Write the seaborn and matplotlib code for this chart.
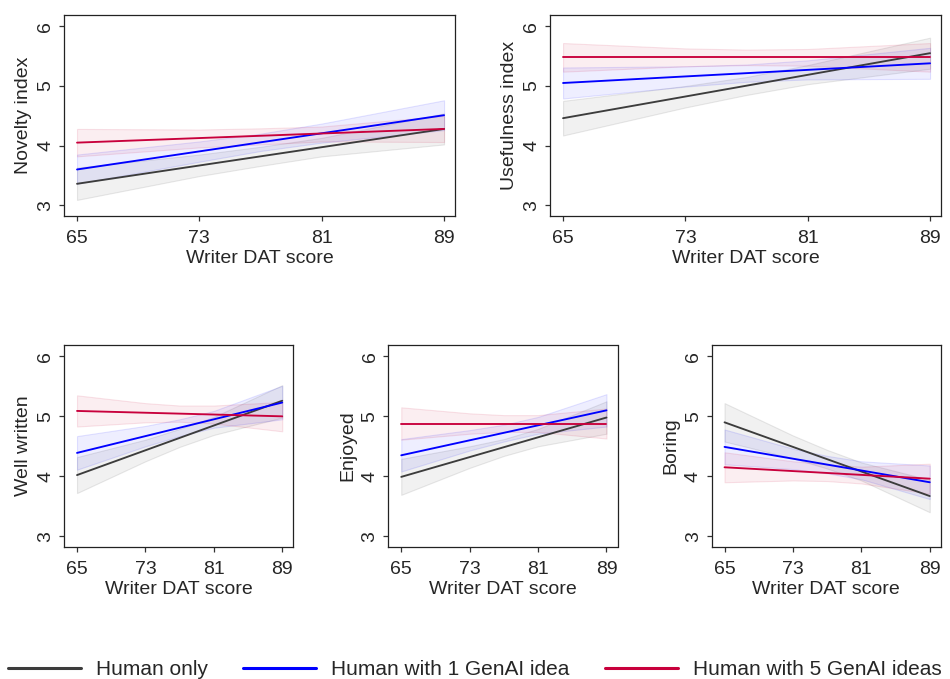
import pandas as pd
import matplotlib
matplotlib.use("Agg")
import matplotlib.pyplot as plt
import seaborn as sns
from matplotlib.colors import to_rgba
from matplotlib.lines import Line2D

# --- DATA ---
GROUPS = ["Human only", "Human with 1 GenAI idea", "Human with 5 GenAI ideas"]

X_ENDS = [65, 89]                  # fitted lines are straight
X_BAND = [65, 73, 77, 81, 89]      # CI band read at these scores
X_TICKS = [65, 73, 81, 89]
Y_TICKS = [3, 4, 5, 6]

# one row per group: human only, 1 idea, 5 ideas
NOVELTY_MEAN = [[3.36, 4.28], [3.60, 4.51], [4.05, 4.28]]
NOVELTY_LO = [[3.09, 3.49, 3.66, 3.82, 4.02], [3.36, 3.73, 3.91, 4.05, 4.26], [3.82, 3.97, 4.02, 4.07, 4.06]]
NOVELTY_HI = [[3.63, 3.85, 3.98, 4.13, 4.54], [3.85, 4.07, 4.20, 4.37, 4.76], [4.28, 4.27, 4.29, 4.32, 4.50]]

USEFUL_MEAN = [[4.46, 5.55], [5.05, 5.38], [5.48, 5.48]]
USEFUL_LO = [[4.17, 4.64, 4.85, 5.03, 5.29], [4.79, 4.99, 5.07, 5.11, 5.12], [5.24, 5.33, 5.35, 5.34, 5.24]]
USEFUL_HI = [[4.75, 5.00, 5.15, 5.35, 5.81], [5.31, 5.33, 5.36, 5.43, 5.64], [5.72, 5.63, 5.61, 5.62, 5.72]]

WELL_MEAN = [[4.02, 5.26], [4.39, 5.23], [5.09, 5.00]]
WELL_LO = [[3.72, 4.25, 4.49, 4.69, 4.98], [4.11, 4.50, 4.67, 4.81, 4.95], [4.83, 4.90, 4.91, 4.88, 4.75]]
WELL_HI = [[4.32, 4.61, 4.79, 4.99, 5.52], [4.67, 4.84, 4.95, 5.09, 5.51], [5.35, 5.22, 5.18, 5.18, 5.24]]

ENJOY_MEAN = [[3.99, 4.98], [4.35, 5.10], [4.88, 4.88]]
ENJOY_LO = [[3.69, 4.14, 4.34, 4.50, 4.71], [4.08, 4.43, 4.58, 4.71, 4.83], [4.61, 4.71, 4.74, 4.74, 4.63]]
ENJOY_HI = [[4.29, 4.50, 4.62, 4.79, 5.25], [4.62, 4.77, 4.86, 4.99, 5.37], [5.15, 5.05, 5.02, 5.02, 5.13]]

BORING_MEAN = [[4.90, 3.67], [4.49, 3.90], [4.15, 3.96]]
BORING_LO = [[4.58, 4.30, 4.13, 3.93, 3.40], [4.20, 4.12, 4.05, 3.95, 3.62], [3.90, 3.93, 3.92, 3.88, 3.71]]
BORING_HI = [[5.22, 4.68, 4.44, 4.23, 3.94], [4.78, 4.46, 4.34, 4.25, 4.18], [4.40, 4.25, 4.20, 4.16, 4.21]]

# --- STYLE ---
LINE_COLORS = ["#3c3c3c", "#0000ff", "#c8003c"]
BAND_COLORS = ["#808080", "#0000ff", "#cc0033"]
BAND_ALPHA = [0.11, 0.065, 0.065]

sns.set_style("ticks")
plt.rcParams['font.family'] = ['Liberation Sans', 'DejaVu Sans']


def draw_panel(ax, ylabel, mean, lo, hi, xlim):
    # confidence bands first, lines on top
    for i, g in enumerate(GROUPS):
        ax.fill_between(X_BAND, lo[i], hi[i],
                        facecolor=to_rgba(BAND_COLORS[i], BAND_ALPHA[i]),
                        edgecolor=to_rgba(BAND_COLORS[i], BAND_ALPHA[i] * 1.6),
                        linewidth=0.8, zorder=1)

    rows = []
    for i, g in enumerate(GROUPS):
        for x, y in zip(X_ENDS, mean[i]):
            rows.append({"score": x, "value": y, "group": g})
    df = pd.DataFrame(rows)
    sns.lineplot(data=df, x="score", y="value", hue="group", hue_order=GROUPS,
                 palette=LINE_COLORS, estimator=None, linewidth=1.35,
                 legend=False, ax=ax, zorder=3)

    ax.set_xlim(*xlim)
    ax.set_ylim(2.82, 6.19)
    ax.set_xticks(X_TICKS, labels=[str(t) for t in X_TICKS])
    ax.set_yticks(Y_TICKS, labels=[str(t) for t in Y_TICKS], rotation=90, va="center")
    ax.tick_params(axis="both", direction="out", length=3.5, width=0.9,
                   labelsize=14, color="#333333")
    ax.tick_params(axis="x", pad=6.5)
    ax.tick_params(axis="y", pad=3.5)
    ax.set_xlabel("Writer DAT score", fontsize=14, labelpad=2.5)
    ax.set_ylabel(ylabel, fontsize=14, labelpad=4)
    for sp in ax.spines.values():
        sp.set_visible(True)
        sp.set_linewidth(0.9)
        sp.set_color("#222222")


fig = plt.figure(figsize=(9.5, 6.79), dpi=100)

big_w, small_w = 0.4116, 0.2413
ax1 = fig.add_axes([0.0674, 0.6819, big_w, 0.296])
ax2 = fig.add_axes([0.579, 0.6819, big_w, 0.296])
ax3 = fig.add_axes([0.0674, 0.1944, small_w, 0.2975])
ax4 = fig.add_axes([0.4087, 0.1944, small_w, 0.2975])
ax5 = fig.add_axes([0.749, 0.1944, small_w, 0.2975])

BIG_XLIM = (64.15, 89.72)
SMALL_XLIM = (63.48, 90.29)

draw_panel(ax1, "Novelty index", NOVELTY_MEAN, NOVELTY_LO, NOVELTY_HI, BIG_XLIM)
draw_panel(ax2, "Usefulness index", USEFUL_MEAN, USEFUL_LO, USEFUL_HI, BIG_XLIM)
draw_panel(ax3, "Well written", WELL_MEAN, WELL_LO, WELL_HI, SMALL_XLIM)
draw_panel(ax4, "Enjoyed", ENJOY_MEAN, ENJOY_LO, ENJOY_HI, SMALL_XLIM)
draw_panel(ax5, "Boring", BORING_MEAN, BORING_LO, BORING_HI, SMALL_XLIM)

handles = [Line2D([0], [0], color=c, lw=2.2) for c in LINE_COLORS]
fig.legend(handles, GROUPS, loc="center", bbox_to_anchor=(0.5, 0.014), ncol=3,
           frameon=False, fontsize=15, handlelength=3.5, handletextpad=0.72,
           columnspacing=1.7, borderpad=0, borderaxespad=0)

plt.savefig("out.png", dpi=100)
